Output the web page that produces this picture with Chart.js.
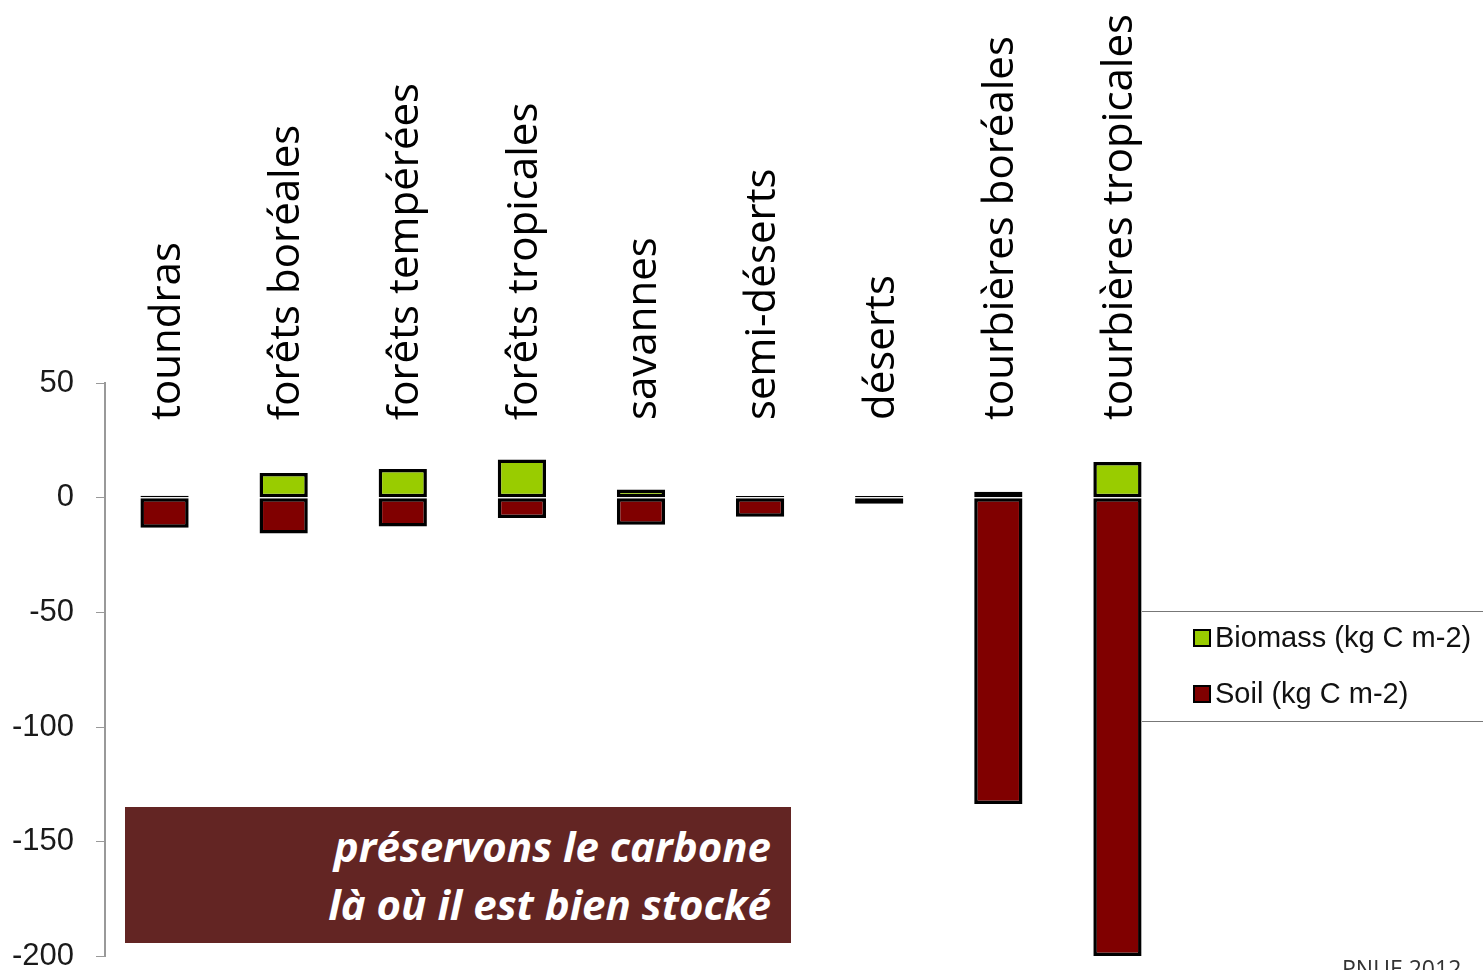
<!DOCTYPE html>
<html>
<head>
<meta charset="utf-8">
<script src="https://cdn.jsdelivr.net/npm/chart.js@4.4.1/dist/chart.umd.min.js"></script>
<style>
  html, body { margin: 0; padding: 0; background: #fff; }
  #wrap { position: relative; width: 1483px; height: 970px; overflow: hidden; }
  #note {
    position: absolute; left: 125px; top: 807px; width: 666px; height: 136px;
    background: #632523; color: #fff; box-sizing: border-box; padding: 10px 20px 0 0;
    font-family: "Open Sans", sans-serif; font-style: italic; font-weight: bold;
    font-size: 42px; line-height: 58px; text-align: right;
  }
  #source {
    position: absolute; left: 1342px; top: 952px;
    font-family: "Open Sans", sans-serif; font-size: 23px; color: #333;
  }
</style>
</head>
<body>
<div id="wrap">
  <!-- canvas is a little taller than the page: the y tick padding eats the bottom -->
  <canvas id="carbonChart" width="1483" height="997"></canvas>
  <div id="note">préservons le carbone<br>là où il est bien stocké</div>
  <div id="source">PNUE 2012</div>
</div>
<script>
// categories and values (kg C m-2)
const categories = ['toundras', 'forêts boréales', 'forêts tempérées', 'forêts tropicales',
  'savannes', 'semi-déserts', 'déserts', 'tourbières boréales', 'tourbières tropicales'];
const biomass = [0.8, 10.8, 12.5, 16.7, 3.6, 0.7, 0.7, 2.6, 15.6];
const soil = [-13.1, -15.6, -12.6, -8.9, -11.8, -8.3, -2.7, -133.5, -199.8];
const seriesNames = ['Biomass (kg C m-2)', 'Soil (kg C m-2)'];
const yMin = -200, yMax = 50, yStep = 50;

// category names written upright above the bars
const topLabels = {
  id: 'topLabels',
  afterDatasetsDraw(chart) {
    const ctx = chart.ctx;
    const xs = chart.scales.x;
    ctx.save();
    ctx.font = '42px "Open Sans"';
    ctx.fillStyle = '#000';
    ctx.textAlign = 'left';
    ctx.textBaseline = 'alphabetic';
    categories.forEach((c, i) => {
      const x = xs.getPixelForValue(i) + 15;
      ctx.save();
      ctx.translate(x, 420);
      ctx.rotate(-Math.PI / 2);
      ctx.fillText(c, 0, 0);
      ctx.restore();
    });
    ctx.restore();
  }
};

// legend box on the right, with a line above and below
const sideLegend = {
  id: 'sideLegend',
  afterDraw(chart) {
    const ctx = chart.ctx;
    ctx.save();
    ctx.strokeStyle = '#777';
    ctx.lineWidth = 1;
    ctx.beginPath();
    ctx.moveTo(1142, 611.5); ctx.lineTo(1483, 611.5);
    ctx.moveTo(1142, 721.5); ctx.lineTo(1483, 721.5);
    ctx.stroke();
    ctx.font = '29px "Liberation Sans", Arial';
    ctx.textBaseline = 'middle';
    chart.data.datasets.forEach((ds, i) => {
      const y = 638 + i * 56;
      ctx.fillStyle = ds.backgroundColor;
      ctx.fillRect(1194, y - 8, 16, 16);
      ctx.strokeStyle = '#000';
      ctx.lineWidth = 2;
      ctx.strokeRect(1194, y - 8, 16, 16);
      ctx.fillStyle = '#111';
      ctx.fillText(ds.label, 1215, y + 1);
    });
    ctx.restore();
  }
};

const ctx = document.getElementById('carbonChart').getContext('2d');
new Chart(ctx, {
  type: 'bar',
  data: {
    labels: categories,
    datasets: [
      {
        label: seriesNames[0],
        data: biomass,
        backgroundColor: '#99cc00',
        borderColor: '#000',
        borderWidth: 3.5,
        borderSkipped: false,
        inflateAmount: 0
      },
      {
        label: seriesNames[1],
        data: soil,
        backgroundColor: '#800000',
        borderColor: '#000',
        borderWidth: 3.5,
        borderSkipped: false,
        inflateAmount: 0
      }
    ]
  },
  options: {
    responsive: false,
    animation: false,
    layout: { padding: { top: 383, right: 306, bottom: 0, left: 0 } },
    datasets: { bar: { barPercentage: 0.405, categoryPercentage: 1 } },
    plugins: {
      legend: { display: false },
      tooltip: { enabled: false }
    },
    scales: {
      x: {
        stacked: true,
        display: false
      },
      y: {
        stacked: true,
        min: yMin,
        max: yMax,
        afterFit(scale) { scale.width = 105; },
        ticks: {
          stepSize: yStep,
          padding: 22,
          color: '#1a1a1a',
          font: { family: '"Liberation Sans", Arial', size: 31 }
        },
        grid: {
          drawOnChartArea: false,
          drawTicks: true,
          tickLength: 9,
          color: '#999'
        },
        border: { color: '#999', width: 2 }
      }
    }
  },
  plugins: [topLabels, sideLegend]
});
</script>
</body>
</html>
